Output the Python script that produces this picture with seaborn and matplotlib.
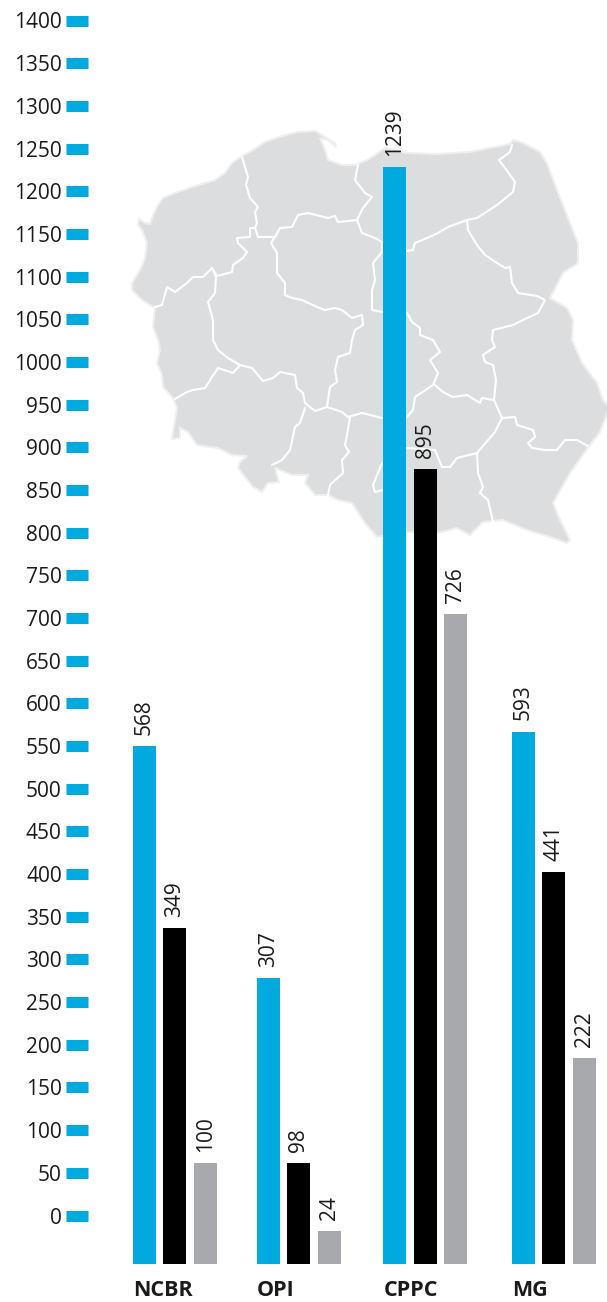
import pandas as pd
import matplotlib
matplotlib.use("Agg")
import matplotlib.pyplot as plt
from matplotlib.patches import Polygon
import seaborn as sns

# etykiety nad slupkami
groups = ["NCBR", "OPI", "CPPC", "MG"]
series = ["a", "b", "c"]
labels_a = [568, 307, 1239, 593]
labels_b = [349, 98, 895, 441]
labels_c = [100, 24, 726, 222]

# wysokosci slupkow odczytane z osi (nie zgadzaja sie z etykietami na oryginale)
heights_a = [550, 278, 1228, 567]
heights_b = [337, 61, 874, 402]
heights_c = [61, -18, 705, 184]
baseline = -57

ticks = list(range(0, 1401, 50))
colors = ["#00a9de", "#000000", "#a8a9ad"]

centers_a = [144.5, 268.5, 394.5, 523.5]
centers_b = [174.5, 298.5, 425.5, 553.5]
centers_c = [205.5, 329.5, 455.5, 584.5]
group_left = [133, 257, 384, 512]

# mapa w pikselach obrazka
outline = [
    (132, 283), (140, 270), (145, 258), (147, 243), (142, 230), (138, 225), (139, 219), (145, 223), (150, 224),
    (153, 215), (158, 205), (163, 198), (175, 193), (195, 186), (215, 180), (225, 173), (232, 163), (242, 156),
    (253, 150), (265, 142), (282, 136), (298, 132), (315, 131), (322, 135), (335, 143), (336, 147), (328, 140),
    (320, 138), (325, 150), (328, 160), (342, 165), (355, 165), (367, 160), (375, 155), (385, 148), (407, 153),
    (437, 154), (470, 152), (510, 144), (513, 140), (523, 143), (540, 152), (547, 163), (557, 190), (570, 223),
    (578, 243), (578, 263), (563, 273), (550, 298), (567, 308), (573, 320), (572, 340), (582, 363), (597, 383),
    (603, 400), (609, 408), (600, 432), (590, 445), (570, 473), (553, 503), (560, 520), (570, 540), (567, 543),
    (550, 537), (527, 530), (503, 520), (483, 522), (470, 535), (457, 528), (437, 533), (403, 532), (377, 537),
    (365, 523), (352, 503), (338, 500), (328, 495), (315, 495), (305, 483), (308, 475), (292, 475), (275, 468),
    (279, 482), (268, 483), (262, 492), (253, 487), (238, 468), (240, 462), (247, 456), (232, 455), (218, 448),
    (197, 445), (188, 432), (180, 428), (180, 438), (172, 439), (175, 420), (177, 408), (173, 398), (163, 387),
    (162, 375), (157, 363), (160, 350), (158, 340), (153, 327), (155, 308), (142, 300), (132, 290),
]
borders = [
    [(242, 157), (245, 167), (248, 177), (246, 185), (250, 198), (258, 207), (255, 212), (257, 223), (255, 228),
     (250, 228), (250, 237), (237, 238), (238, 243), (247, 252), (243, 258), (233, 265), (232, 272), (217, 276),
     (212, 268), (203, 277), (193, 277), (187, 283), (175, 292), (167, 287), (162, 305), (155, 307)],
    [(212, 268), (216, 277), (215, 293), (208, 302), (213, 320), (213, 340), (218, 350), (228, 358), (240, 365),
     (233, 373), (218, 368), (212, 377), (205, 388), (193, 390), (187, 392), (175, 399)],
    [(240, 365), (252, 368), (263, 381), (273, 378), (280, 372), (295, 375), (297, 388), (303, 393), (305, 403),
     (315, 411), (327, 407), (342, 412), (348, 417), (362, 413), (382, 418), (407, 417), (413, 410), (415, 397),
     (433, 385), (438, 373), (430, 360), (440, 352), (433, 340), (420, 335), (420, 328), (412, 322), (407, 313),
     (383, 312), (372, 310), (372, 290), (375, 280), (373, 263), (382, 252), (382, 242), (375, 238), (362, 233),
     (357, 220)],
    [(382, 242), (407, 251), (413, 250), (415, 243), (427, 238), (438, 233), (448, 227), (467, 220), (477, 218),
     (497, 205), (513, 192), (515, 182), (505, 168), (499, 160), (510, 152), (512, 145)],
    [(358, 165), (355, 180), (365, 193), (372, 197), (363, 208), (357, 220), (338, 222), (335, 216), (328, 218),
     (308, 213), (298, 215), (292, 227), (280, 228), (275, 237), (258, 237), (255, 228)],
    [(275, 237), (271, 243), (277, 253), (277, 273), (285, 283), (285, 295), (292, 298), (302, 300), (317, 307),
     (325, 310), (335, 308), (342, 310), (352, 318), (362, 315), (363, 325), (355, 330), (352, 340), (350, 353),
     (338, 357), (335, 370), (337, 382), (330, 387), (327, 407)],
    [(467, 220), (468, 230), (477, 245), (485, 255), (497, 263), (505, 268), (510, 267), (512, 283), (518, 293),
     (537, 296), (545, 300), (538, 313), (523, 320), (513, 325), (493, 330), (492, 340), (495, 347), (483, 355),
     (485, 362), (493, 365), (496, 380), (494, 400), (502, 418)],
    [(494, 400), (482, 398), (480, 403), (467, 395), (453, 397), (443, 392), (435, 385)],
    [(502, 418), (495, 432), (477, 453), (457, 458), (450, 467), (442, 467), (435, 450), (407, 448), (382, 463),
     (373, 485), (375, 492), (383, 490)],
    [(477, 453), (478, 473), (483, 487), (480, 493), (488, 500), (493, 522)],
    [(502, 418), (515, 417), (517, 425), (533, 430), (535, 437), (528, 443), (532, 448), (545, 450), (557, 450),
     (565, 440), (577, 440), (588, 446)],
    [(350, 417), (347, 435), (345, 445), (349, 452), (342, 460), (343, 473), (330, 485), (328, 495)],
    [(305, 408), (300, 423), (295, 427), (290, 450), (282, 460), (272, 465)],
]

sns.set_theme(style="white")
plt.rcParams["font.family"] = ["Open Sans", "DejaVu Sans"]

fig = plt.figure(figsize=(6.07, 13.02), dpi=100)

# mapa pod spodem
ax_map = fig.add_axes([0, 0, 1, 1], zorder=0)
ax_map.set_xlim(0, 607)
ax_map.set_ylim(1302, 0)
ax_map.axis("off")
ax_map.add_patch(Polygon(outline, closed=True, facecolor="#dcddde", edgecolor="#efefef", linewidth=1.5))
for line in borders:
    ax_map.plot([p[0] for p in line], [p[1] for p in line], color="white", lw=1.5, solid_joinstyle="round")

# os glowna: x w pikselach, y w jednostkach skali
px_zero = 1215.5
px_per_unit = 1195 / 1400
ax = fig.add_axes([0, 0, 1, 1], zorder=1)
ax.patch.set_visible(False)

rows = []
for name, xs, vals in [("a", centers_a, heights_a), ("b", centers_b, heights_b), ("c", centers_c, heights_c)]:
    for x, v in zip(xs, vals):
        rows.append({"x": x, "height": v - baseline, "serie": name})
df = pd.DataFrame(rows)

sns.barplot(data=df, x="x", y="height", hue="serie", hue_order=series, palette=colors, native_scale=True,
            dodge=False, width=23 / 30, bottom=baseline, saturation=1, legend=False, linewidth=0, ax=ax)

ax.set_xlim(0, 607)
ax.set_ylim((px_zero - 1302) / px_per_unit, px_zero / px_per_unit)
ax.set_xlabel("")
ax.set_ylabel("")
sns.despine(ax=ax, left=True, bottom=True)
# set_position kasuje ticki, wiec musi byc przed ich ustawieniem
ax.spines["left"].set_position(("data", 88))
ax.set_xticks([])
ax.set_yticks(ticks)
ax.set_yticklabels([str(t) for t in ticks], fontsize=15, color="#1a1a1a")
ax.tick_params(axis="y", left=True, length=22 * 0.72, width=11 * 0.72, color=colors[0], pad=3)

for xs, vals, tops in [(centers_a, labels_a, heights_a), (centers_b, labels_b, heights_b), (centers_c, labels_c, heights_c)]:
    for x, lab, top in zip(xs, vals, tops):
        ax.annotate(str(lab), (x, top), xytext=(0, 8), textcoords="offset points", rotation=90,
                    ha="center", va="bottom", fontsize=15, color="#1a1a1a")

for x, name in zip(group_left, groups):
    ax.annotate(name, (x, baseline), xytext=(0, -32 * 0.72), textcoords="offset points", ha="left", va="baseline",
                fontsize=15.5, fontweight="bold", color="#1a1a1a")

fig.savefig("out.png", dpi=100)
